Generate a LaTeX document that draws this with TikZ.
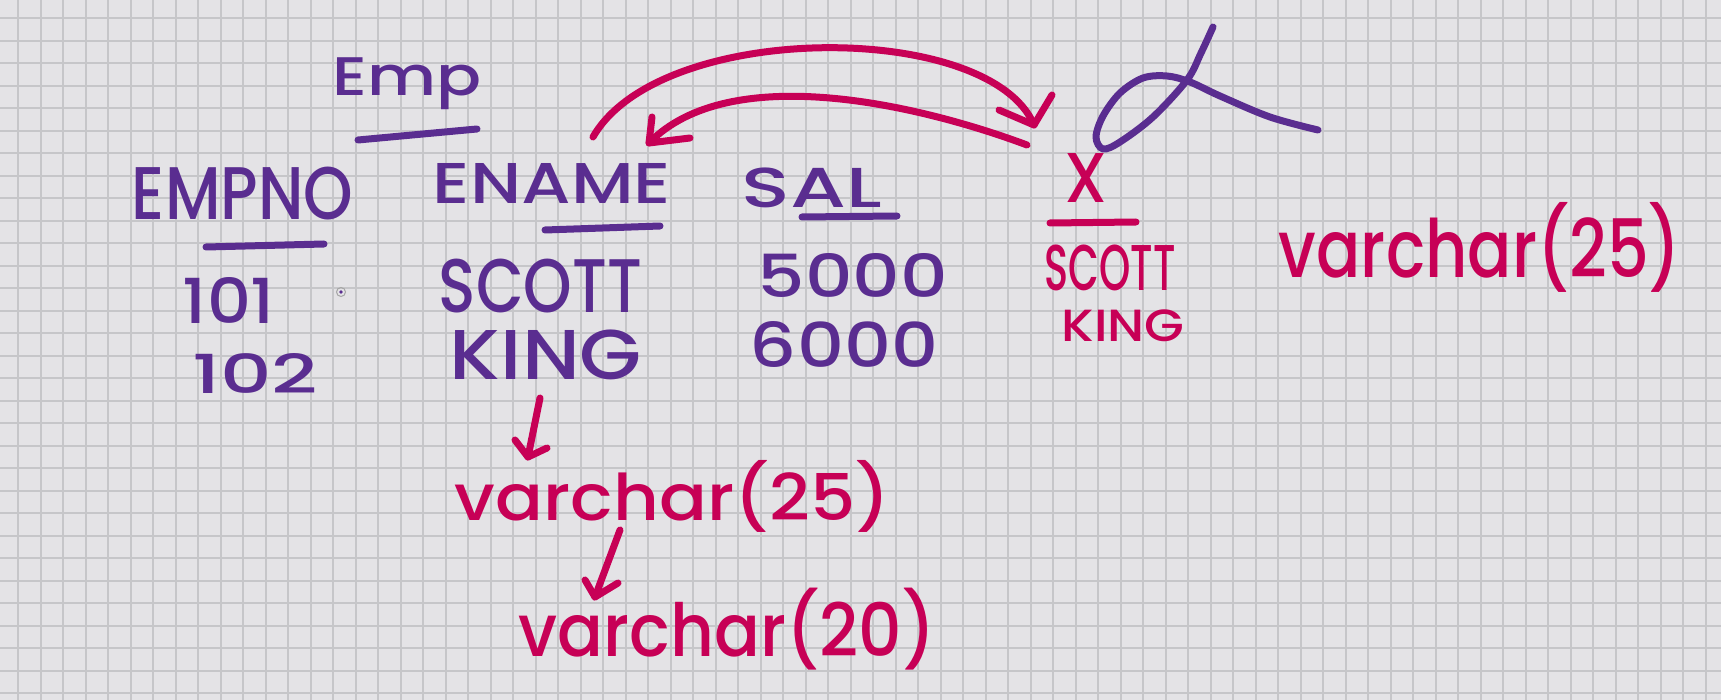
\documentclass[tikz,border=0pt]{standalone}
\usepackage{fontspec}
\setmainfont{Poppins}[BoldFont={Poppins Medium}]
\usepackage{graphicx}
\definecolor{bg}{HTML}{E4E3E6}
\definecolor{gridc}{HTML}{C6C6C9}
\definecolor{pu}{HTML}{5A2D90}
\definecolor{mg}{HTML}{C70056}
\newcommand{\hw}[3]{\resizebox*{#1pt}{#2pt}{\bfseries #3}}
\tikzset{
  pen/.style={line width=7pt, line cap=round, line join=round},
  pl/.style={pen, draw=pu},
  ml/.style={pen, draw=mg},
  ptxt/.style={inner sep=0pt, text=pu},
  mtxt/.style={inner sep=0pt, text=mg},
  gridline/.style={draw=gridc, line width=2pt}
}
\begin{document}
\begin{tikzpicture}[x=1pt,y=-1pt]
\fill[bg] (0,0) rectangle (1721,700);
\useasboundingbox (0,0) rectangle (1721,700);
\foreach \i in {0,...,76} \draw[gridline] ({18.3+22.5*\i},0) -- ({18.3+22.5*\i},700);
\foreach \j in {0,...,30} \draw[gridline] (0,{18.3+22.5*\j}) -- (1721,{18.3+22.5*\j});

% purple table
\node[ptxt] (emp)   at (407.5,84) {\hw{149}{52}{Emp}};
\node[ptxt] (empno) at (242.5,193.5) {\hw{221}{53}{EMPNO}};
\node[ptxt] (ename) at (552,183) {\hw{238}{40}{ENAME}};
\node[ptxt] (sal)   at (812,188) {\hw{140}{40}{SAL}};
\node[ptxt] (r101)  at (229,300) {\hw{92}{46}{101}};
\node[ptxt] (r102)  at (255,373) {\hw{126}{40}{102}};
\node[ptxt] (scott) at (540.5,286) {\hw{203}{54}{SCOTT}};
\node[ptxt] (king)  at (546,355) {\hw{192}{50}{KING}};
\node[ptxt] (s5000) at (853,275) {\hw{190}{44}{5000}};
\node[ptxt] (s6000) at (844,344) {\hw{188}{46}{6000}};

\draw[pl] (358,140) -- (477,129);
\draw[pl] (206,247) -- (324,244);
\draw[pl] (545,230) -- (660,226);
\draw[pl] (802,217) -- (897,216);

% cursor dot
\draw[gray!70, line width=1pt] (341,292) circle (4.5pt);
\fill[pu] (341,292) circle (1.8pt);

% magenta
\node[mtxt] (vc25)  at (672.5,496) {\hw{435}{72}{varchar(25)}};
\node[mtxt] (vc20)  at (727,629) {\hw{417}{82}{varchar(20)}};
\node[mtxt] (xn)    at (1086,178) {\hw{43}{49}{X}};
\node[mtxt] (scott2) at (1110,268) {\hw{131}{46}{SCOTT}};
\node[mtxt] (king2) at (1123,326) {\hw{123}{32}{KING}};
\node[mtxt] (vc25r) at (1480,247) {\hw{402}{90}{varchar(25)}};

\draw[ml] (1050,223) -- (1136,222);

% down arrows
\coordinate (a1s) at (540,398);
\coordinate (a1e) at (528,457);
\draw[ml] (a1s) -- (a1e);
\draw[ml] (515,440) -- (a1e) -- (547,448);
\coordinate (a2s) at (620,530);
\coordinate (a2e) at (595,597);
\draw[ml] (a2s) -- (a2e);
\draw[ml] (585,580) -- (a2e) -- (618,583);

% curved arrows
\coordinate (c1s) at (593,137);
\coordinate (c1e) at (1034,125);
\draw[ml] (c1s) .. controls (660,20) and (990,20) .. (c1e);
\draw[ml] (999,110) -- (c1e) -- (1052,95);
\coordinate (c2s) at (1027,145);
\coordinate (c2e) at (649,143);
\draw[ml] (c2s) .. controls (920,105) and (730,60) .. (c2e);
\draw[ml] (652,117) -- (c2e) -- (690,138);

% purple alpha stroke
\draw[pl] plot[smooth, tension=0.55] coordinates {(1213,27) (1201,53) (1187,80) (1153,117) (1120,142) (1103,149) (1096,137) (1103,116) (1120,93) (1143,78) (1167,76) (1190,82) (1220,96) (1270,117) (1318,130)};
\end{tikzpicture}
\end{document}
